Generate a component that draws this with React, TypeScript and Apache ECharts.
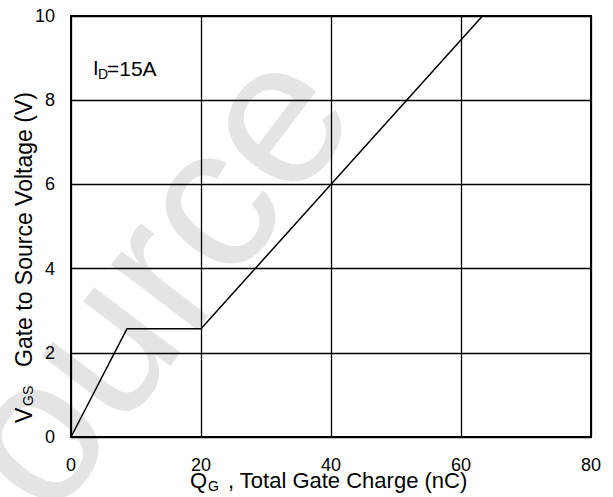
import React, { useEffect, useRef } from "react";
import * as echarts from "echarts";

// Gate charge curve (Q_G in nC, V_GS in V)
const qg = [0, 8.6, 20, 63.3];
const vgs = [0, 2.57, 2.57, 10];

const xTicks = [0, 20, 40, 60, 80];
const yTicks = [0, 2, 4, 6, 8, 10];

const FONT = "'Liberation Sans', Arial, sans-serif";

export default function App() {
  const ref = useRef<HTMLDivElement>(null);
  useEffect(() => {
    if (!ref.current) return;
    const chart = echarts.init(ref.current, undefined, { renderer: "svg" });
    const data = qg.map((q, i) => [q, vgs[i]]);
    const txt = (x: number, y: number, text: string, size: number, rotation = 0) => ({
      type: "text",
      x,
      y,
      rotation,
      style: { text, fontSize: size, fontFamily: FONT, fill: "#000", align: "left", verticalAlign: "middle" },
    });
    chart.setOption({
      animation: false,
      backgroundColor: "#ffffff",
      grid: {
        left: 71,
        right: 22,
        top: 16,
        bottom: 60,
        show: true,
        borderColor: "#000",
        borderWidth: 2,
        backgroundColor: "transparent",
      },
      xAxis: {
        type: "value",
        min: xTicks[0],
        max: xTicks[xTicks.length - 1],
        interval: 20,
        axisLine: { show: true, lineStyle: { color: "#000", width: 2 } },
        axisTick: { show: false },
        axisLabel: { color: "#000", fontSize: 18, fontFamily: FONT, margin: 19 },
        splitLine: { show: true, lineStyle: { color: "#000", width: 1.3 } },
      },
      yAxis: {
        type: "value",
        min: yTicks[0],
        max: yTicks[yTicks.length - 1],
        interval: 2,
        axisLine: { show: true, lineStyle: { color: "#000", width: 2 } },
        axisTick: { show: false },
        axisLabel: { color: "#000", fontSize: 18, fontFamily: FONT, margin: 16 },
        splitLine: { show: true, lineStyle: { color: "#000", width: 1.3 } },
      },
      graphic: {
        elements: [
          {
            type: "text",
            x: 108,
            y: 330,
            rotation: 0.92,
            z: -10,
            silent: true,
            style: {
              text: "Source",
              fontSize: 205,
              fontFamily: FONT,
              fill: "#e4e4e4",
              align: "center",
              verticalAlign: "middle",
            },
          },
          // I_D annotation
          txt(93, 68, "I", 20),
          txt(98, 74, "D", 14),
          txt(107, 68, "=15A", 21),
          // X axis name
          txt(190, 480, "Q", 22),
          txt(208, 486, "G", 14),
          txt(228, 480, ", Total Gate Charge (nC)", 22),
          // Y axis name
          txt(24, 423, "V", 23, Math.PI / 2),
          txt(28, 406, "GS", 14, Math.PI / 2),
          txt(24, 367, "Gate to Source Voltage (V)", 23, Math.PI / 2),
        ],
      },
      series: [
        {
          type: "line",
          data,
          symbol: "none",
          clip: true,
          lineStyle: { color: "#000", width: 1.5 },
          z: 5,
        },
      ],
    });
    return () => chart.dispose();
  }, []);
  return (
    <div
      ref={ref}
      style={{ position: "fixed", left: 0, top: 0, width: 613, height: 497 }}
    />
  );
}
